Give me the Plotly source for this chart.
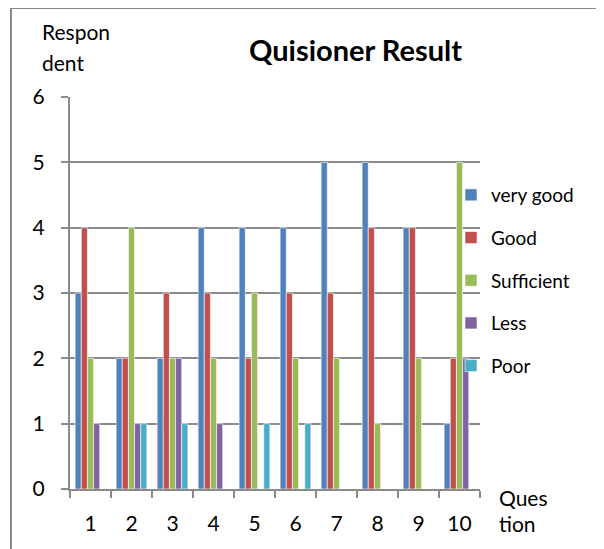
import plotly.graph_objects as go

questions = ["1", "2", "3", "4", "5", "6", "7", "8", "9", "10"]
very_good = [3, 2, 2, 4, 4, 4, 5, 5, 4, 1]
good = [4, 2, 3, 3, 2, 3, 3, 4, 4, 2]
sufficient = [2, 4, 2, 2, 3, 2, 2, 1, 2, 5]
less = [1, 1, 2, 1, 0, 0, 0, 0, 0, 2]
poor = [0, 1, 1, 0, 1, 1, 0, 0, 0, 0]

series = [
    ("very good", very_good, "#4F81BD"),
    ("Good", good, "#C0504D"),
    ("Sufficient", sufficient, "#9BBB59"),
    ("Less", less, "#8064A2"),
    ("Poor", poor, "#4BACC6"),
]

FONT = "Lato"
fig = go.Figure()
for i, (name, vals, col) in enumerate(series):
    fig.add_trace(go.Bar(
        x=questions, y=vals, name=name, legendgroup=f"g{i}",
        marker=dict(color=col, line=dict(width=0.6, color="white")),
    ))

OFF = 8  # page body margin offset
W, H = 596, 541
PL, PR, PT, PB = 70, 480, 97, 489  # plot area in screen pixels
L, T = PL - OFF, PT - OFF
R, B = W - (PR - OFF), H - (PB - OFF)
pw, ph = W - L - R, H - T - B

def px(x):
    return (x - OFF - L) / pw

def py(y):
    return (H - B - (y - OFF)) / ph

fig.update_layout(
    width=W, height=H,
    margin=dict(l=L, r=R, t=T, b=B, autoexpand=False),
    paper_bgcolor="white", plot_bgcolor="white",
    barmode="group", bargap=0.25, bargroupgap=0,
    font=dict(family=FONT, size=21, color="black"),
    showlegend=True,
    legend=dict(x=px(451), y=py(176), xanchor="left", yanchor="top",
                font=dict(size=19, family=FONT), tracegroupgap=15,
                itemwidth=30, bgcolor="rgba(0,0,0,0)"),
    xaxis=dict(type="category", showgrid=False, showline=True, automargin=False,
               linecolor="#8a8a8a", linewidth=2,
               ticks="outside", tickson="boundaries", ticklen=7,
               tickcolor="#8a8a8a", tickwidth=2, ticklabelstandoff=15,
               tickfont=dict(size=21)),
    yaxis=dict(range=[0, 6], dtick=1, showgrid=True, gridcolor="#8a8a8a",
               gridwidth=2, showline=True, linecolor="#8a8a8a", linewidth=2,
               automargin=False,
               ticks="outside", ticklen=7, tickcolor="#8a8a8a", tickwidth=2,
               ticklabelstandoff=12, tickfont=dict(size=21), zeroline=False),
)

fig.add_shape(type="rect", xref="paper", yref="paper",
              x0=px(11), x1=px(600), y0=py(570), y1=py(8),
              line=dict(color="#8a8a8a", width=2), layer="below")

fig.add_annotation(text="<b>Quisioner Result</b>", xref="paper", yref="paper",
                   x=px(355), y=py(50), xanchor="center", yanchor="middle",
                   showarrow=False, font=dict(size=29, family=FONT))
for txt, x, y in [("Respon", 40, 32), ("dent", 40, 62), ("Ques", 497, 497), ("tion", 497, 523)]:
    fig.add_annotation(text=txt, xref="paper", yref="paper",
                       x=px(x), y=py(y), xanchor="left", yanchor="middle",
                       showarrow=False, font=dict(size=21, family=FONT))

fig.write_html("out.html")
